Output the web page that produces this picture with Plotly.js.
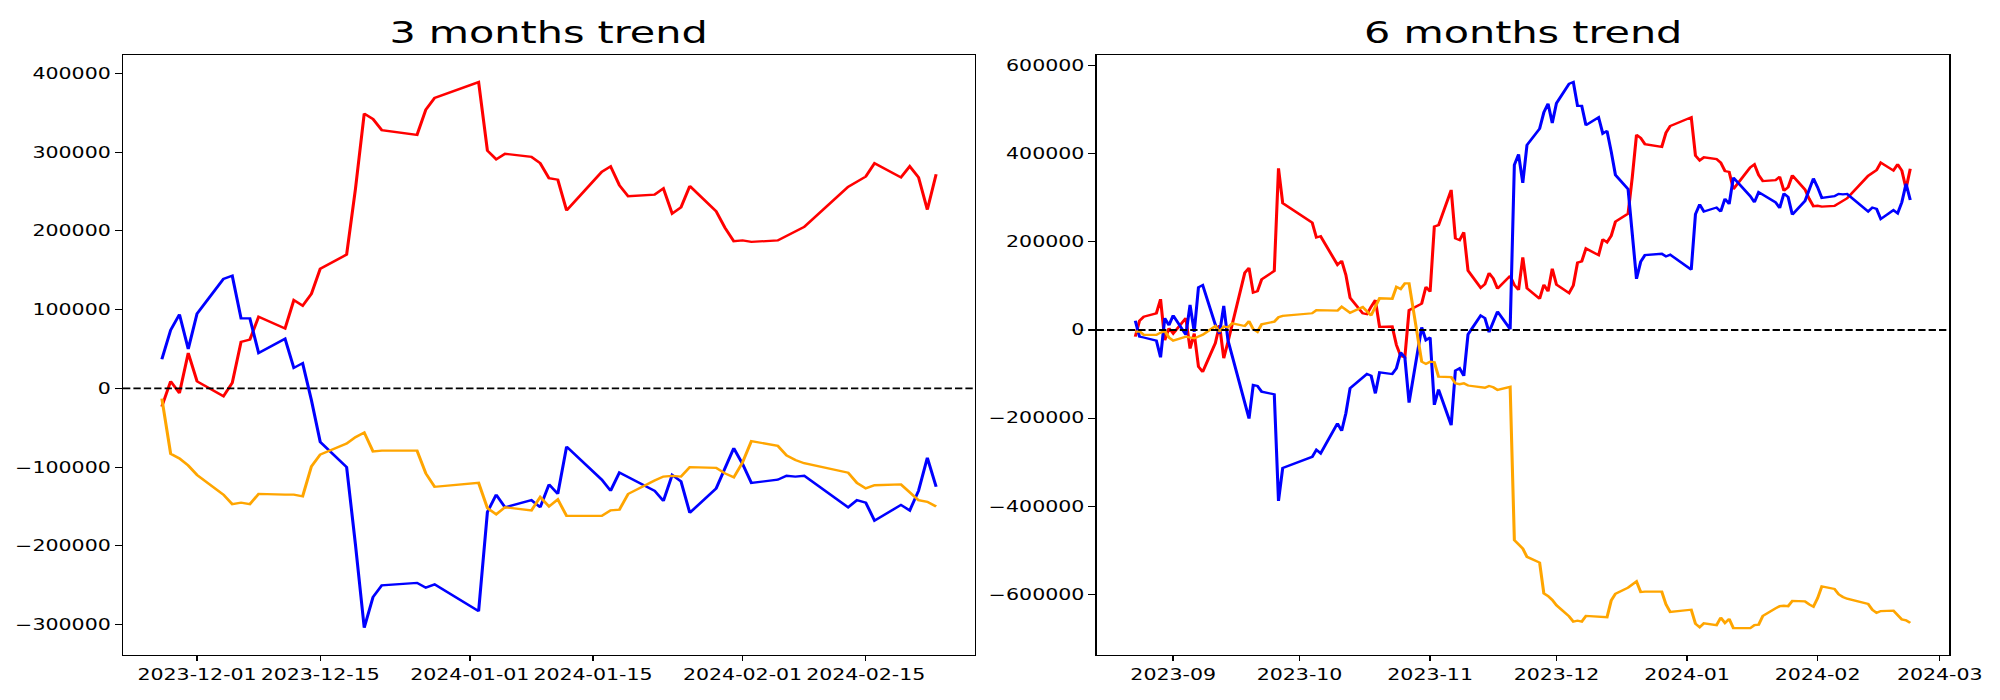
<!DOCTYPE html>
<html>
<head>
<meta charset="utf-8">
<script src="https://cdn.plot.ly/plotly-3.0.1.min.js"></script>
<style>
  html, body { margin: 0; padding: 0; background: #ffffff; overflow: hidden; }
  #wrap { width: 1500px; height: 700px; transform: scaleX(1.333333); transform-origin: 0 0; }
  #chart { width: 1500px; height: 700px; }
</style>
</head>
<body>
<div id="wrap"><div id="chart"></div></div>
<script>
// ---------------- 3 months panel ----------------
const dates3m = ['2023-11-27','2023-11-28','2023-11-29','2023-11-30','2023-12-01','2023-12-04','2023-12-05','2023-12-06','2023-12-07','2023-12-08','2023-12-11','2023-12-12','2023-12-13','2023-12-14','2023-12-15','2023-12-18','2023-12-19','2023-12-20','2023-12-21','2023-12-22','2023-12-26','2023-12-27','2023-12-28','2024-01-02','2024-01-03','2024-01-04','2024-01-05','2024-01-08','2024-01-09','2024-01-10','2024-01-11','2024-01-12','2024-01-16','2024-01-17','2024-01-18','2024-01-19','2024-01-22','2024-01-23','2024-01-24','2024-01-25','2024-01-26','2024-01-29','2024-01-30','2024-01-31','2024-02-01','2024-02-02','2024-02-05','2024-02-06','2024-02-07','2024-02-08','2024-02-13','2024-02-14','2024-02-15','2024-02-16','2024-02-19','2024-02-20','2024-02-21','2024-02-22','2024-02-23'];

const red3m = [-23000,9000,-6000,45000, 9000,-10000,7000,59000,62000,91000,76000,112000,105000,120000,152000,170000,253000,349000,342000,328000,322000,354000,369000, 389000,302000,291000,298000,294000,286000,267000,265000,226000,275000,282000,258000,244000,246000,254000,222000,230000,257000,225000,204000,187000, 188000,186000,188000,194000,200000,205000,256000,262000,269000,286000,268000,282000,268000,227000,272000];

const blue3m = [37000,74000,94000,50000, 95000,139000,143000,89000,89000,45000,63000,26000,32000,-15000,-68000,-100000,-198000,-304000,-265000,-250000,-247000,-253000,-249000, -283000,-157000,-135000,-151000,-142000,-151000,-122000,-134000,-74000,-116000,-130000,-107000,-113000,-130000,-143000,-110000,-118000,-158000,-127000,-101000,-76000, -96000,-120000,-116000,-111000,-112000,-111000,-151000,-142000,-145000,-168000,-148000,-155000,-130000,-88000,-125000];

const orange3m = [-13000,-83000,-89000,-98000, -110000,-135000,-147000,-145000,-147000,-134000,-135000,-135000,-137000,-99000,-84000,-70000,-62000,-56000,-80000,-79000,-79000,-108000,-125000, -120000,-152000,-160000,-151000,-155000,-138000,-150000,-141000,-162000,-162000,-155000,-154000,-134000,-117000,-112000,-111000,-112000,-100000,-101000,-108000,-113000, -94000,-67000,-73000,-85000,-91000,-95000,-107000,-120000,-127000,-123000,-122000,-132000,-142000,-144000,-150000];

const ticks3mX = ['2023-12-01','2023-12-15','2024-01-01','2024-01-15','2024-02-01','2024-02-15'];
const ticks3mY = [-300000,-200000,-100000,0,100000,200000,300000,400000];

// ---------------- 6 months panel ----------------
const datesAugNov = ['2023-08-23','2023-08-24','2023-08-25','2023-08-28','2023-08-29','2023-08-30','2023-08-31','2023-09-01','2023-09-04','2023-09-05','2023-09-06','2023-09-07','2023-09-08','2023-09-11','2023-09-12','2023-09-13','2023-09-14','2023-09-15','2023-09-18','2023-09-19','2023-09-20','2023-09-21','2023-09-22','2023-09-25','2023-09-26','2023-09-27','2023-10-04','2023-10-05','2023-10-06','2023-10-10','2023-10-11','2023-10-12','2023-10-13','2023-10-16','2023-10-17','2023-10-18','2023-10-19','2023-10-20','2023-10-23','2023-10-24','2023-10-25','2023-10-26','2023-10-27','2023-10-30','2023-10-31','2023-11-01','2023-11-02','2023-11-03','2023-11-06','2023-11-07','2023-11-08','2023-11-09','2023-11-10','2023-11-13','2023-11-14','2023-11-15','2023-11-16','2023-11-17','2023-11-20','2023-11-21','2023-11-22','2023-11-23','2023-11-24'];
const dates6m = datesAugNov.concat(dates3m);

const red6m = [-15000,21000,30000,38000,70000,-23000,4000, -8000,27000,-42000,-8000,-83000,-95000,-30000,11000,-64000,-27000,13000,130000,141000,85000,88000,115000,134000,367000,288000, 244000,210000,213000,148000,157000,125000,73000,38000,36000,53000,68000,7000,8000,-34000,-59000,-62000,45000,60000,98000, 87000,235000,238000,318000,208000,204000,222000,135000,96000,104000,129000,117000,94000,123000,102000,91000,165000,95000,
  71000,103000,88000,139000, 103000,84000,101000,153000,156000,185000,170000,206000,199000,214000,246000,264000,347000,443000,436000,422000,416000,448000,463000, 483000,396000,385000,392000,388000,380000,361000,359000,320000,369000,376000,352000,338000,340000,348000,316000,324000,351000,319000,298000,281000, 282000,280000,282000,288000,294000,299000,350000,356000,363000,380000,362000,376000,362000,321000,366000];

const blue6m = [21000,-15000,-17000,-24000,-62000,27000,11000, 33000,-11000,57000,-4000,97000,102000,12000,-8000,55000,-23000,-60000,-164000,-201000,-125000,-127000,-140000,-146000,-388000,-313000, -288000,-272000,-280000,-212000,-229000,-189000,-132000,-108000,-100000,-104000,-144000,-96000,-100000,-87000,-51000,-62000,-165000,6000,-23000, -17000,-170000,-135000,-216000,-92000,-87000,-104000,-10000,33000,27000,-5000,16000,42000,2000,375000,399000,334000,420000,
  457000,494000,514000,470000, 515000,559000,563000,509000,509000,465000,483000,446000,452000,405000,352000,320000,222000,116000,155000,170000,173000,167000,171000, 137000,263000,285000,269000,278000,269000,298000,286000,346000,304000,290000,313000,307000,290000,277000,310000,302000,262000,293000,319000,344000, 324000,300000,304000,309000,308000,309000,269000,278000,275000,252000,272000,265000,290000,332000,295000];

const orange6m = [-4000,-3000,-11000,-11000,-6000,-2000,-17000, -24000,-15000,-17000,-19000,-15000,-11000,9000,-4000,8000,6000,15000,9000,20000,2000,-4000,13000,19000,29000,32000, 38000,45000,45000,44000,53000,46000,39000,52000,42000,33000,53000,72000,71000,98000,93000,106000,106000,-72000,-77000, -72000,-73000,-106000,-107000,-121000,-123000,-121000,-126000,-131000,-131000,-127000,-130000,-136000,-129000,-477000,-487000,-496000,-515000,
  -528000,-598000,-604000,-613000, -625000,-650000,-662000,-660000,-662000,-649000,-650000,-650000,-652000,-614000,-599000,-585000,-577000,-571000,-595000,-594000,-594000,-623000,-640000, -635000,-667000,-675000,-666000,-670000,-653000,-665000,-656000,-677000,-677000,-670000,-669000,-649000,-632000,-627000,-626000,-627000,-615000,-616000,-623000,-628000, -609000,-582000,-588000,-600000,-606000,-610000,-622000,-635000,-642000,-638000,-637000,-647000,-657000,-659000,-665000];

const ticks6mX = ['2023-09-01','2023-10-01','2023-11-01','2023-12-01','2024-01-01','2024-02-01','2024-03-01'];
const ticks6mXText = ['2023-09','2023-10','2023-11','2023-12','2024-01','2024-02','2024-03'];
const ticks6mY = [-600000,-400000,-200000,0,200000,400000,600000];

const titles = ['3 months trend', '6 months trend'];
const colors = {red: '#ff0000', blue: '#0000ff', orange: '#ffa500'};

function fmt(v) { return v < 0 ? '\u2212' + String(-v) : String(v); }

function line(x, y, color, xa, ya) {
  return {type: 'scatter', mode: 'lines', x: x, y: y, xaxis: xa, yaxis: ya,
          line: {color: color, width: 2.3}, hoverinfo: 'skip'};
}

const traces = [
  line(dates3m, red3m, colors.red, 'x', 'y'),
  line(dates3m, blue3m, colors.blue, 'x', 'y'),
  line(dates3m, orange3m, colors.orange, 'x', 'y'),
  line(dates6m, red6m, colors.red, 'x2', 'y2'),
  line(dates6m, blue6m, colors.blue, 'x2', 'y2'),
  line(dates6m, orange6m, colors.orange, 'x2', 'y2')
];

const axisStyle = {
  showline: true, mirror: true, linecolor: '#000000', linewidth: 1.1,
  ticks: 'outside', ticklen: 5, tickwidth: 1.1, tickcolor: '#000000',
  showgrid: false, zeroline: false, tickangle: 0, automargin: false,
  tickfont: {family: 'DejaVu Sans', size: 15.4, color: '#000000'}
};

const yDomain = [0.0643, 0.9214];
const xDom1 = [0.0615, 0.4875];
const xDom2 = [0.5483, 0.9747];

const layout = {
  width: 1500, height: 700,
  margin: {l: 0, r: 0, t: 0, b: 0},
  paper_bgcolor: '#ffffff', plot_bgcolor: '#ffffff',
  showlegend: false,
  font: {family: 'DejaVu Sans', color: '#000000'},
  xaxis: Object.assign({}, axisStyle, {
    domain: xDom1, anchor: 'y', type: 'date',
    range: ['2023-11-22 14:00', '2024-02-27 10:00'],
    tickmode: 'array', tickvals: ticks3mX, ticktext: ticks3mX
  }),
  yaxis: Object.assign({}, axisStyle, {
    domain: yDomain, anchor: 'x',
    range: [-338600, 423400],
    tickmode: 'array', tickvals: ticks3mY, ticktext: ticks3mY.map(fmt)
  }),
  xaxis2: Object.assign({}, axisStyle, {
    domain: xDom2, anchor: 'y2', type: 'date',
    range: ['2023-08-13 19:30', '2024-03-03 07:00'],
    tickmode: 'array', tickvals: ticks6mX, ticktext: ticks6mXText
  }),
  yaxis2: Object.assign({}, axisStyle, {
    domain: yDomain, anchor: 'x2',
    range: [-737800, 624300],
    tickmode: 'array', tickvals: ticks6mY, ticktext: ticks6mY.map(fmt)
  }),
  shapes: [
    {type: 'line', xref: 'x domain', yref: 'y', x0: 0, x1: 1, y0: 0, y1: 0,
     line: {color: '#000000', width: 1.9, dash: '5.5px,2.3px'}},
    {type: 'line', xref: 'x2 domain', yref: 'y2', x0: 0, x1: 1, y0: 0, y1: 0,
     line: {color: '#000000', width: 1.9, dash: '5.5px,2.3px'}}
  ],
  annotations: [
    {text: titles[0], xref: 'paper', yref: 'paper', x: (xDom1[0] + xDom1[1]) / 2, y: 1 - 32 / 700,
     xanchor: 'center', yanchor: 'middle', showarrow: false,
     font: {family: 'DejaVu Sans', size: 31, color: '#000000'}},
    {text: titles[1], xref: 'paper', yref: 'paper', x: (xDom2[0] + xDom2[1]) / 2, y: 1 - 32 / 700,
     xanchor: 'center', yanchor: 'middle', showarrow: false,
     font: {family: 'DejaVu Sans', size: 31, color: '#000000'}}
  ]
};

Plotly.newPlot('chart', traces, layout, {displayModeBar: false, staticPlot: true});
</script>
</body>
</html>
